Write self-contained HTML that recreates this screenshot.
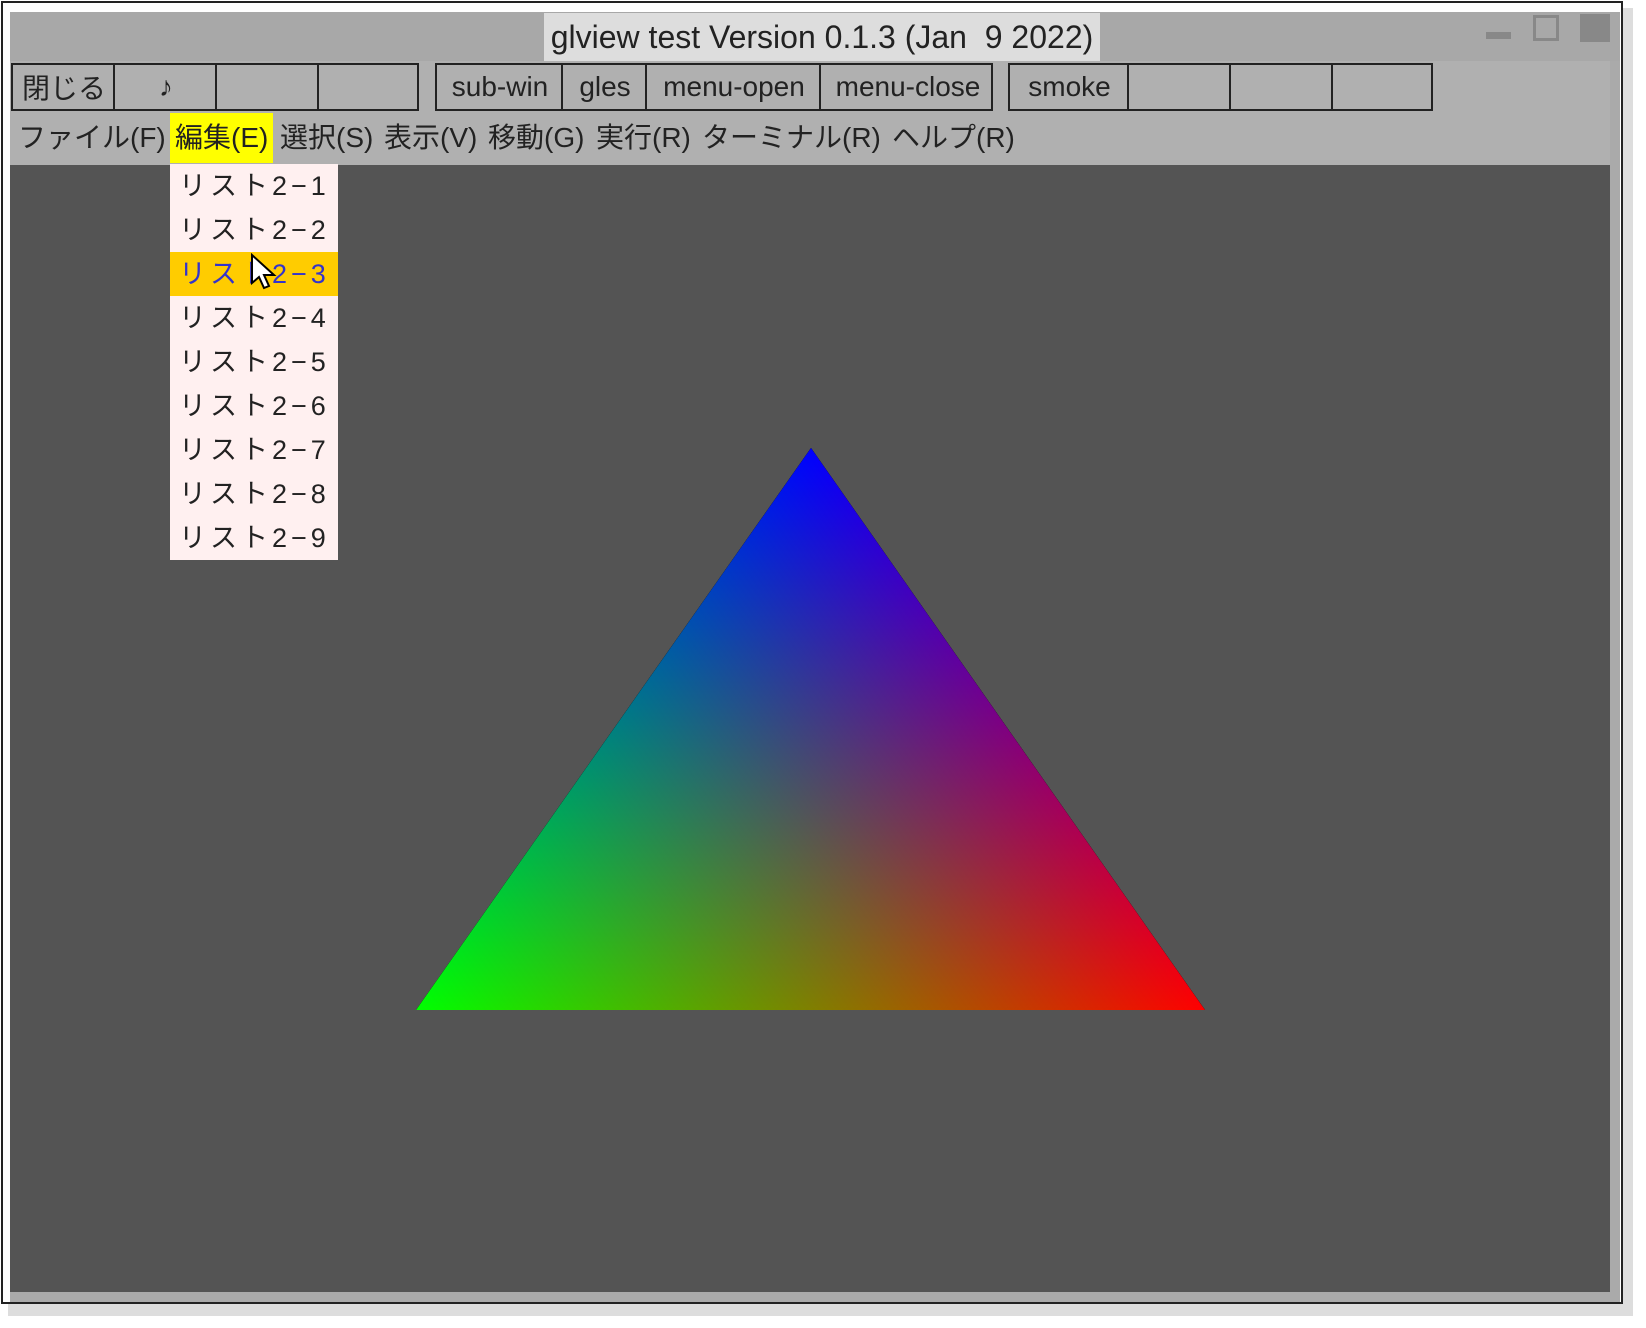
<!DOCTYPE html>
<html><head><meta charset="utf-8">
<style>
body{margin:0;width:1646px;height:1328px;background:#fff;position:relative;overflow:hidden;font-family:"Liberation Sans","Noto Sans CJK JP",sans-serif;}
.abs{position:absolute;box-sizing:border-box;}
.btn{position:absolute;top:0;height:100%;border-left:2px solid #222;display:flex;align-items:center;justify-content:center;font-size:28px;color:#222;}
.menu{position:absolute;top:113px;height:50px;line-height:50px;font-size:28px;color:#222;white-space:nowrap;}
.item{position:absolute;left:0;width:168px;height:44px;line-height:44px;font-size:27px;color:#222;padding-left:9px;letter-spacing:4px;box-sizing:border-box;white-space:nowrap;overflow:hidden;}
</style></head><body>
<div class="abs" style="left:8px;top:8px;width:1625px;height:1308px;background:#ddd;"></div>
<div class="abs" style="left:1px;top:1px;width:1622px;height:1303px;background:#fff;border:2px solid #222;"></div>
<div class="abs" style="left:10px;top:12px;width:1610px;height:1290px;background:#aaa;"></div>
<div class="abs" style="left:10px;top:12px;width:1610px;height:49px;background:#a8a8a8;"></div>
<div class="abs" style="left:544px;top:13px;width:556px;height:48px;background:#dddddd;font-size:32px;line-height:48px;text-align:center;color:#222;white-space:nowrap;">glview test Version 0.1.3 (Jan&nbsp; 9 2022)</div>
<div class="abs" style="left:1486px;top:32px;width:25px;height:7px;background:#888;"></div>
<div class="abs" style="left:1533px;top:15px;width:26px;height:26px;border:3px solid #888;"></div>
<div class="abs" style="left:1580px;top:14px;width:30px;height:28px;background:#888;"></div>
<div class="abs" style="left:10px;top:61px;width:1600px;height:52px;background:#b0b0b0;"></div>
<div class="abs" style="left:11px;top:63px;width:408px;height:48px;border:2px solid #222;border-left:none;">
<div class="btn" style="left:0;width:102px;">閉じる</div>
<div class="btn" style="left:102px;width:102px;">♪</div>
<div class="btn" style="left:204px;width:102px;"></div>
<div class="btn" style="left:306px;width:102px;"></div>
</div>
<div class="abs" style="left:435px;top:63px;width:558px;height:48px;border:2px solid #222;border-left:none;">
<div class="btn" style="left:0;width:126px;">sub-win</div>
<div class="btn" style="left:126px;width:84px;">gles</div>
<div class="btn" style="left:210px;width:174px;">menu-open</div>
<div class="btn" style="left:384px;width:174px;">menu-close</div>
</div>
<div class="abs" style="left:1008px;top:63px;width:425px;height:48px;border:2px solid #222;border-left:none;">
<div class="btn" style="left:0;width:119px;">smoke</div>
<div class="btn" style="left:119px;width:102px;"></div>
<div class="btn" style="left:221px;width:102px;"></div>
<div class="btn" style="left:323px;width:102px;"></div>
</div>
<div class="abs" style="left:10px;top:113px;width:1600px;height:52px;background:#b0b0b0;"></div>
<div class="menu" style="left:18px;">ファイル(F)</div>
<div class="menu" style="left:170px;width:103px;background:#ffff00;padding-left:5px;box-sizing:border-box;">編集(E)</div>
<div class="menu" style="left:280px;">選択(S)</div>
<div class="menu" style="left:384px;">表示(V)</div>
<div class="menu" style="left:488px;">移動(G)</div>
<div class="menu" style="left:596px;">実行(R)</div>
<div class="menu" style="left:702px;">ターミナル(R)</div>
<div class="menu" style="left:892px;">ヘルプ(R)</div>
<div class="abs" style="left:10px;top:165px;width:1600px;height:1127px;background:#545454;"></div>
<svg class="abs" style="left:0;top:0;" width="1646" height="1328">
<defs>
<linearGradient id="gb" gradientUnits="userSpaceOnUse" x1="811" y1="448" x2="811" y2="1010"><stop offset="0" stop-color="#0000ff"/><stop offset="1" stop-color="#000"/></linearGradient>
<linearGradient id="gg" gradientUnits="userSpaceOnUse" x1="416" y1="1010" x2="945" y2="639"><stop offset="0" stop-color="#00ff00"/><stop offset="1" stop-color="#000"/></linearGradient>
<linearGradient id="gr" gradientUnits="userSpaceOnUse" x1="1205" y1="1010" x2="677" y2="639"><stop offset="0" stop-color="#ff0000"/><stop offset="1" stop-color="#000"/></linearGradient>
</defs>
<g style="isolation:isolate">
<polygon points="811,448 416,1010 1205,1010" fill="#000"/>
<polygon points="811,448 416,1010 1205,1010" fill="url(#gb)" style="mix-blend-mode:screen"/>
<polygon points="811,448 416,1010 1205,1010" fill="url(#gg)" style="mix-blend-mode:screen"/>
<polygon points="811,448 416,1010 1205,1010" fill="url(#gr)" style="mix-blend-mode:screen"/>
</g>
</svg>
<div class="abs" style="left:170px;top:164px;width:168px;height:396px;background:#fff0f0;">
<div class="item" style="top:0;">リスト2−1</div>
<div class="item" style="top:44px;">リスト2−2</div>
<div class="item" style="top:88px;background:#ffcc00;color:#3333cc;">リスト2−3</div>
<div class="item" style="top:132px;">リスト2−4</div>
<div class="item" style="top:176px;">リスト2−5</div>
<div class="item" style="top:220px;">リスト2−6</div>
<div class="item" style="top:264px;">リスト2−7</div>
<div class="item" style="top:308px;">リスト2−8</div>
<div class="item" style="top:352px;">リスト2−9</div>
</div>
<svg class="abs" style="left:250px;top:253px;" width="30" height="40"><polygon points="2,2 2,30 9,24 14,35 19,33 14,22 24,22" fill="#fff" stroke="#000" stroke-width="2"/></svg>
</body></html>
